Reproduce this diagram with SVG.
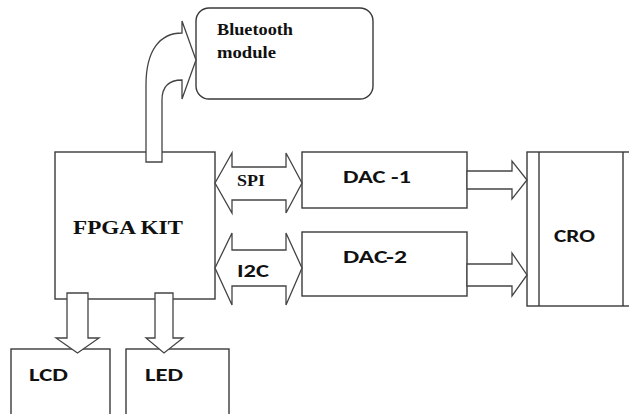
<svg xmlns="http://www.w3.org/2000/svg" width="629" height="414" viewBox="0 0 629 414">
<style>
.box{fill:#fff;stroke:#3a3a3a;stroke-width:1.4}
.arr{fill:#fff;stroke:#444;stroke-width:1.3;stroke-linejoin:miter}
.serif{font-family:"Liberation Serif","Times New Roman",serif;font-weight:bold;fill:#111}
.sans{font-family:Carlito,"Liberation Sans",Arial,sans-serif;font-weight:bold;fill:#111}
</style>
<rect width="629" height="414" fill="#fff"/>
<g id="bluetooth">
<rect class="box" x="196" y="8" width="177" height="91" rx="13" ry="13"/>
<text class="serif" x="217" y="35" font-size="17" textLength="76" lengthAdjust="spacingAndGlyphs">Bluetooth</text>
<text class="serif" x="217" y="58" font-size="17" textLength="59" lengthAdjust="spacingAndGlyphs">module</text>
</g>
<g id="fpga">
<rect class="box" x="55" y="152" width="160" height="147"/>
<text class="serif" x="73" y="234" font-size="18.5" textLength="110" lengthAdjust="spacingAndGlyphs">FPGA KIT</text>
</g>
<g id="dac1">
<rect class="box" x="302" y="152" width="165" height="56"/>
<text class="sans" x="343" y="183" font-size="18.5" textLength="68" lengthAdjust="spacingAndGlyphs">DAC -1</text>
</g>
<g id="dac2">
<rect class="box" x="302" y="232" width="165" height="64"/>
<text class="sans" x="343" y="263" font-size="18.5" textLength="64" lengthAdjust="spacingAndGlyphs">DAC-2</text>
</g>
<g id="cro">
<rect class="box" x="527" y="152" width="110" height="154"/>
<line class="box" x1="539" y1="152" x2="539" y2="306"/>
<line class="box" x1="623" y1="152" x2="623" y2="306"/>
<text class="sans" x="554" y="242" font-size="18.5" textLength="41" lengthAdjust="spacingAndGlyphs">CRO</text>
</g>
<g id="lcd">
<rect class="box" x="11" y="349" width="99" height="80"/>
<text class="sans" x="29" y="381" font-size="18.5" textLength="39" lengthAdjust="spacingAndGlyphs">LCD</text>
</g>
<g id="led">
<rect class="box" x="126" y="349" width="103" height="80"/>
<text class="sans" x="145" y="381" font-size="18.5" textLength="38" lengthAdjust="spacingAndGlyphs">LED</text>
</g>
<g id="connectors">
<path class="arr" d="M146,162 L146,85 C146,50 160,33 182,33 L182,21 L196,60 L182,99 L182,80 C170,80 162,86 162,100 L162,162 Z"/>
<path class="arr" d="M215,183 L232,153 L232,167 L286,167 L286,153 L302,183 L286,213 L286,200 L232,200 L232,213 Z"/>
<path class="arr" d="M215,268 L232,233 L232,250 L286,250 L286,233 L302,268 L286,305 L286,286 L232,286 L232,305 Z"/>
<path class="arr" d="M467,171 L512,171 L512,161 L527,180 L512,199 L512,189 L467,189 Z"/>
<path class="arr" d="M467,264 L512,264 L512,253 L527,275 L512,296 L512,286 L467,286 Z"/>
<path class="arr" d="M67,293 L88,293 L88,338 L99,338 L77.5,353 L56,338 L67,338 Z"/>
<path class="arr" d="M155,293 L173,293 L173,338 L183,338 L164,353 L146,338 L155,338 Z"/>
<text class="serif" x="237" y="186" font-size="17" textLength="28" lengthAdjust="spacingAndGlyphs">SPI</text>
<text class="sans" x="237" y="277" font-size="18.5" textLength="32" lengthAdjust="spacingAndGlyphs">I2C</text>
</g>
</svg>
